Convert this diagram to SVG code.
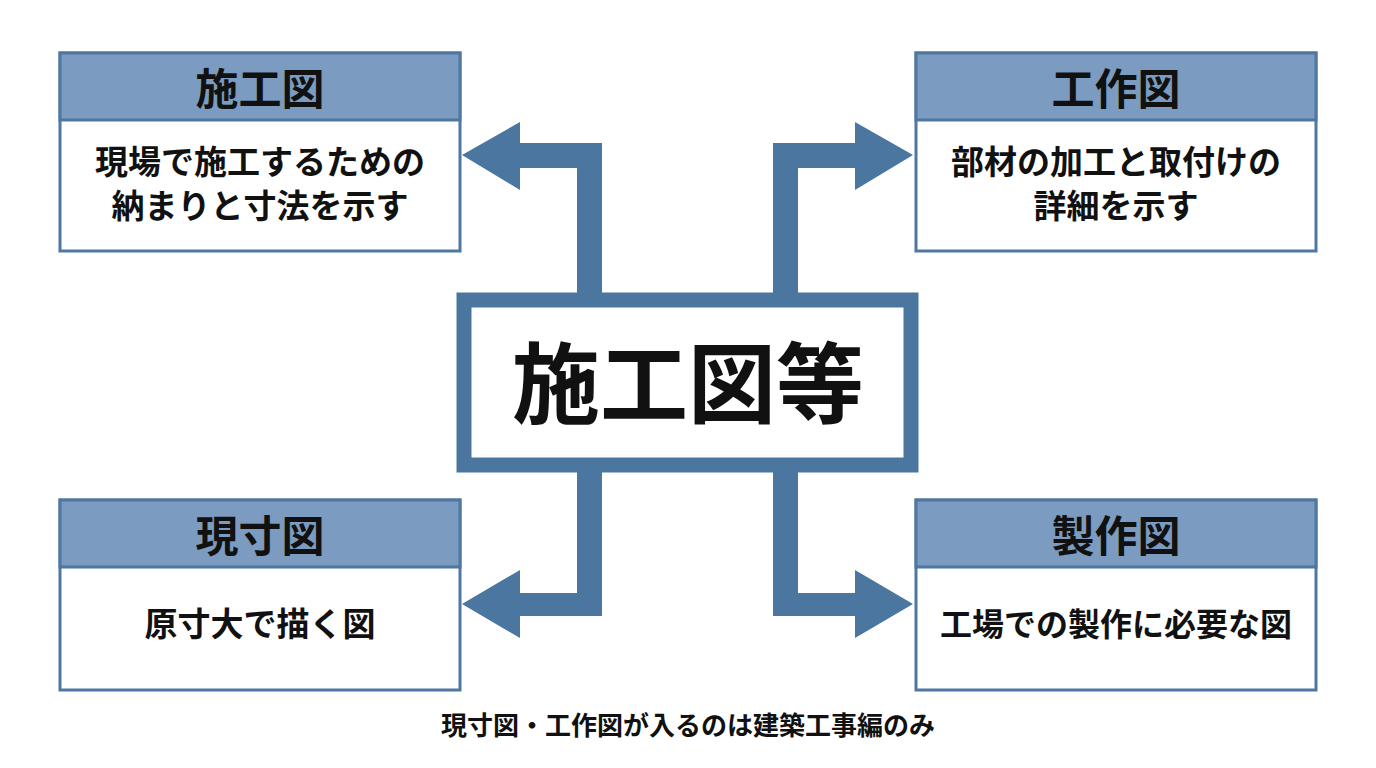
<svg xmlns="http://www.w3.org/2000/svg" width="1376" height="768" viewBox="0 0 1376 768">
<style>
.box{fill:#fff;stroke:#4f77a0;stroke-width:3}
.hd{fill:#7b9cc0;stroke:#4f77a0;stroke-width:3}
.t{font-family:"Noto Sans CJK JP",sans-serif;font-weight:bold;fill:#111;text-anchor:middle}
.arr{fill:#4a76a0}
</style>
<rect width="1376" height="768" fill="#fff"/>
<g id="connectors">
<path class="arr" d="M602,295 V143 H520 V122 L462,155 L520,190 V168 H577 V295 Z"/>
<path class="arr" d="M773,295 V143 H855 V122 L913,155 L855,190 V168 H798 V295 Z"/>
<path class="arr" d="M602,470 V616 H520 V638 L462,604 L520,570 V593 H577 V470 Z"/>
<path class="arr" d="M773,470 V616 H855 V638 L913,604 L855,570 V593 H798 V470 Z"/>
</g>
<g id="center">
<rect x="464" y="300" width="447" height="165" fill="#fff" stroke="#4a76a0" stroke-width="15"/>
<text class="t" x="688" y="416" font-size="88">施工図等</text>
</g>
<g id="sekouzu">
<rect class="box" x="60" y="53" width="400" height="198"/>
<rect class="hd" x="60" y="53" width="400" height="67"/>
<text class="t" x="260" y="105" font-size="43">施工図</text>
<text class="t" x="260" y="174" font-size="33">現場で施工するための</text>
<text class="t" x="260" y="218" font-size="33">納まりと寸法を示す</text>
</g>
<g id="kousakuzu">
<rect class="box" x="916" y="53" width="400" height="198"/>
<rect class="hd" x="916" y="53" width="400" height="67"/>
<text class="t" x="1116" y="105" font-size="43">工作図</text>
<text class="t" x="1116" y="174" font-size="33">部材の加工と取付けの</text>
<text class="t" x="1116" y="218" font-size="33">詳細を示す</text>
</g>
<g id="gensunzu">
<rect class="box" x="60" y="500" width="400" height="190"/>
<rect class="hd" x="60" y="500" width="400" height="67"/>
<text class="t" x="260" y="552" font-size="43">現寸図</text>
<text class="t" x="260" y="636" font-size="33">原寸大で描く図</text>
</g>
<g id="seisakuzu">
<rect class="box" x="916" y="500" width="400" height="190"/>
<rect class="hd" x="916" y="500" width="400" height="67"/>
<text class="t" x="1116" y="552" font-size="43">製作図</text>
<text class="t" x="1116" y="636" font-size="32">工場での製作に必要な図</text>
</g>
<text class="t" x="688" y="735" font-size="26">現寸図・工作図が入るのは建築工事編のみ</text>
</svg>
